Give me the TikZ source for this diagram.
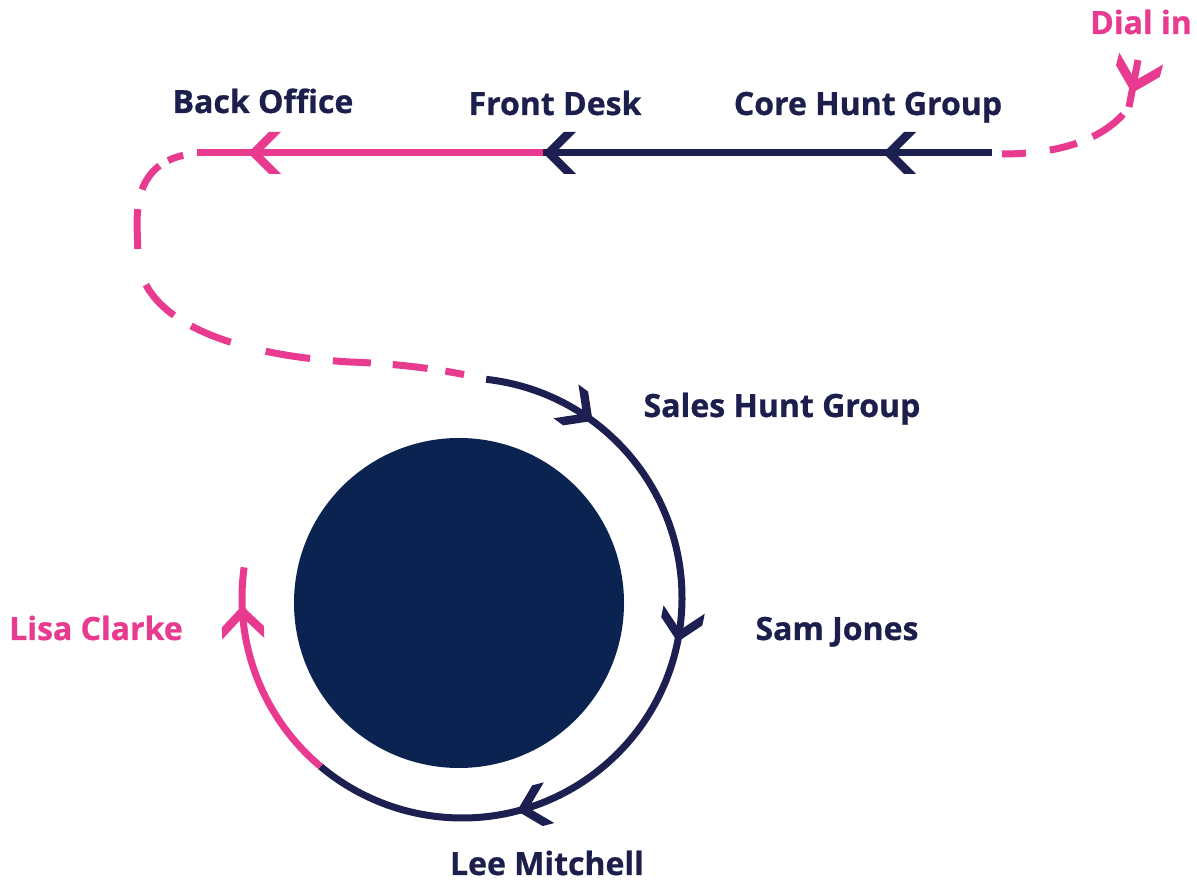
\documentclass[tikz,border=0pt]{standalone}
\usepackage{fontspec}
\setmainfont{Open Sans}[BoldFeatures={FakeBold=0.8}]
\usetikzlibrary{calc}
\definecolor{pinkc}{HTML}{E83A8E}
\definecolor{navyl}{HTML}{1C1F4F}
\definecolor{navyf}{HTML}{0B2350}
\definecolor{navyt}{HTML}{1C1E4C}
\tikzset{
  lbl/.style={font=\fontsize{32}{34}\selectfont\bfseries, text=navyt, inner sep=0pt, anchor=base},
  pinklbl/.style={lbl, text=pinkc},
  wire/.style={line width=7pt, line cap=butt},
  dashwire/.style={wire, pinkc, dash pattern=on 0pt off 14pt on 16pt off 10pt on 30pt off 20pt on 40pt off 37pt on 42pt off 20pt on 43pt off 36pt on 45pt off 23pt on 38pt off 22pt on 35pt off 18pt on 19pt off 100pt},
  dashwiretwo/.style={wire, pinkc, dash pattern=on 24pt off 24pt on 28pt off 17pt on 38pt off 12pt},
  pics/chev/.style={code={\fill[#1] (0,0) -- (-21,21) -- (-33,21) -- (-12,0) -- (-33,-21) -- (-21,-21) -- cycle;}},
}
\begin{document}
\begin{tikzpicture}[x=1pt,y=1pt]
\useasboundingbox (0,0) rectangle (1197,881);
% labels
\node[pinklbl] (dial) at (1141,847) {Dial in};
\node[lbl] (core) at (868,766) {Core Hunt Group};
\node[lbl] (front) at (555,766) {Front Desk};
\node[lbl] (back) at (263,768) {Back Office};
\node[lbl] (sales) at (782,464) {Sales Hunt Group};
\node[lbl] (sam) at (837,241) {Sam Jones};
\node[lbl] (lee) at (547,6) {Lee Mitchell};
\node[pinklbl] (lisa) at (96,241) {Lisa Clarke};
% key points
\coordinate (dstart) at (1138,821);
\coordinate (dstem) at (1129,774);
\coordinate (dend) at (1002,727);
\coordinate (nend) at (992,728);
\coordinate (junc) at (543,728);
\coordinate (pstart) at (197,728);
\coordinate (rc) at (462,283);
\coordinate (as) at ($(rc)+(83.7:220)$);
\coordinate (sw) at ($(rc)+(-130:220)$);
% filled circle
\fill[navyf] (459,278) circle[radius=165];
% dial in: solid stem then dashed curve
\draw[wire, pinkc] (dstart) -- (dstem);
\draw[dashwiretwo] (dend) .. controls (1075,727) and (1112,750) .. (dstem);
% top line
\draw[wire, navyl] (nend) -- (junc);
\draw[wire, pinkc] (junc) -- (pstart);
% left loop dashed
\draw[dashwire] (pstart) .. controls (150,723) and (137,696) .. (137,656)
  -- (138,626) .. controls (140,561) and (230,526) .. (350,519)
  .. controls (410,517) and (455,509) .. (as);
% ring arcs
\draw[wire, navyl] (as) arc[start angle=83.7, end angle=-130, radius=220];
\draw[wire, pinkc] (sw) arc[start angle=-130, end angle=-188, radius=220];
% chevrons
\pic[rotate=-105, scale=1.08] at (1132,788) {chev=pinkc};
\pic[rotate=180] at (883,728) {chev=navyl};
\pic[rotate=180] at (junc) {chev=navyl};
\pic[rotate=180] at (248,728) {chev=pinkc};
\pic[rotate=-36.4] at ($(rc)+(53.6:220)$) {chev=navyl};
\pic[rotate=-101.5] at ($(rc)+(-11.5:220)$) {chev=navyl};
\pic[rotate=-165.5] at ($(rc)+(-75.5:220)$) {chev=navyl};
\pic[rotate=92] at ($(rc)+(-178:220)$) {chev=pinkc};
\end{tikzpicture}
\end{document}
